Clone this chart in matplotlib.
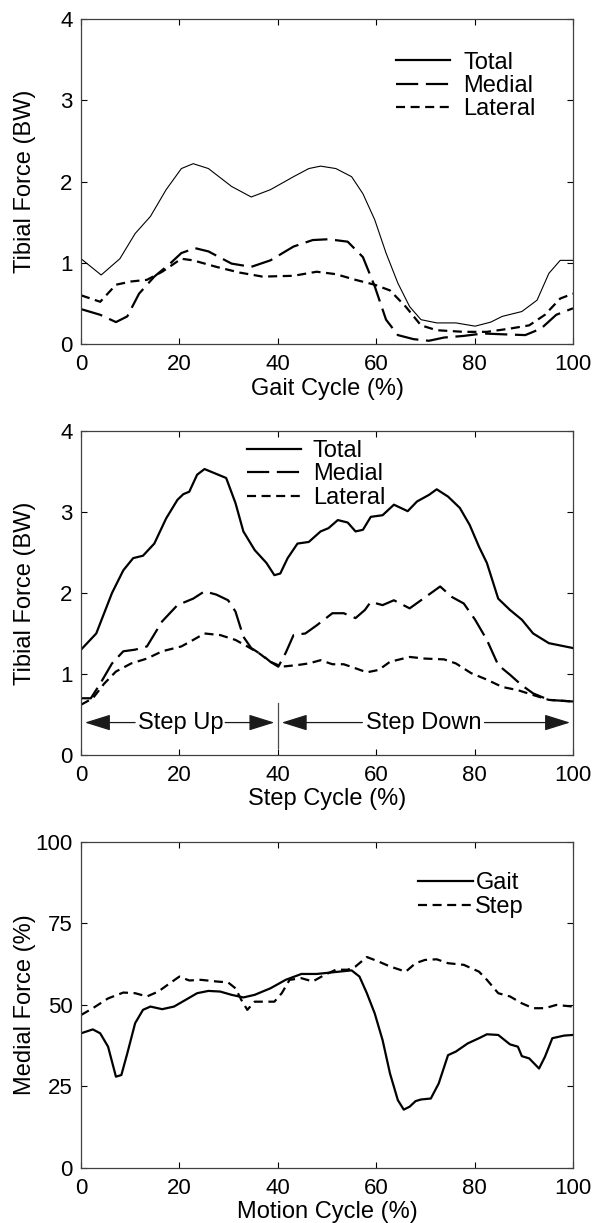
import matplotlib
matplotlib.use("Agg")
import matplotlib.pyplot as plt

plt.rcParams['font.family'] = ['Liberation Sans', 'DejaVu Sans']
plt.rcParams['font.size'] = 17
plt.rcParams['lines.scale_dashes'] = False

# panel 1: gait
gait_total_x = [0, 4.1, 7.9, 11, 14.1, 17.3, 20.4, 22.8, 25.9, 30.6, 34.6, 38.5, 43.2, 46.3, 48.7,
                51.8, 55, 57.3, 59.7, 62, 64.4, 66.8, 69.1, 72.3, 76.2, 80.1, 83.3, 85.6, 89.6,
                92.7, 95.1, 97.4, 100]
gait_total_y = [1.05, 0.85, 1.05, 1.36, 1.57, 1.90, 2.16, 2.22, 2.16, 1.94, 1.81, 1.90, 2.06, 2.16, 2.19,
                2.16, 2.06, 1.85, 1.53, 1.12, 0.75, 0.46, 0.30, 0.26, 0.26, 0.22, 0.27, 0.34, 0.40,
                0.54, 0.87, 1.03, 1.03]
gait_medial_x = [0, 3.9, 7.1, 9.4, 11.8, 14.9, 18.1, 20.4, 23.2, 25.9, 30.6, 34.6, 38.5, 43.2, 47.1,
                 50.3, 54.2, 57.3, 59.7, 62, 64.4, 67.6, 70.7, 73.8, 77.8, 81.7, 85.6, 90.3, 93.5,
                 96.6, 100]
gait_medial_y = [0.43, 0.36, 0.27, 0.34, 0.62, 0.83, 0.99, 1.12, 1.18, 1.14, 0.99, 0.95, 1.03, 1.20, 1.28,
                 1.29, 1.26, 1.07, 0.71, 0.30, 0.11, 0.06, 0.04, 0.08, 0.10, 0.13, 0.12, 0.11, 0.19,
                 0.36, 0.44]
gait_lateral_x = [0, 3.9, 7.1, 10.2, 13.4, 16.5, 20.4, 22.8, 27.5, 32.2, 36.9, 43.2, 47.9, 51.8, 55.8,
                  59.7, 62.8, 66, 69.1, 72.3, 77.8, 82.5, 87.2, 91.1, 94.3, 97.4, 100]
gait_lateral_y = [0.60, 0.52, 0.73, 0.77, 0.79, 0.89, 1.05, 1.03, 0.95, 0.88, 0.83, 0.84, 0.89, 0.86, 0.79,
                  0.73, 0.66, 0.46, 0.23, 0.17, 0.15, 0.15, 0.19, 0.23, 0.36, 0.56, 0.62]

# panel 2: step
step_total_x = [0, 3.1, 6.3, 8.6, 10.6, 12.6, 14.9, 17.3, 19.6, 20.8, 22, 23.6, 25.1, 27.5, 29.5,
                31.4, 33, 35.3, 37.7, 39.3, 40.5, 42, 44, 46.3, 48.7, 50.3, 52.2, 54.2, 55.8, 57.3,
                58.9, 61.3, 63.6, 66.4, 68.3, 70.7, 72.3, 74.6, 77, 79, 80.9, 82.5, 84.8, 87.2,
                89.6, 91.9, 95.1, 100]
step_total_y = [1.30, 1.50, 2.00, 2.28, 2.43, 2.46, 2.61, 2.92, 3.15, 3.22, 3.25, 3.46, 3.53, 3.47, 3.42,
                3.11, 2.76, 2.53, 2.37, 2.22, 2.24, 2.43, 2.61, 2.63, 2.76, 2.80, 2.90, 2.87, 2.76, 2.78,
                2.94, 2.96, 3.09, 3.01, 3.13, 3.21, 3.28, 3.19, 3.05, 2.84, 2.57, 2.37, 1.93, 1.79,
                1.67, 1.50, 1.38, 1.32]
step_medial_x = [0, 2, 3.9, 6.3, 8.6, 11, 13.4, 16.5, 19.6, 22.8, 25.1, 27.5, 29.9, 31.4, 33, 34.6,
                 36.9, 38.5, 40.1, 41.6, 43.2, 45.6, 47.9, 51.1, 53.4, 55.8, 57.7, 58.9, 61.3, 63.6,
                 66.8, 69.1, 73, 75.4, 77.8, 80.1, 82.5, 84.8, 87.2, 89.6, 91.9, 95.1, 100]
step_medial_y = [0.70, 0.70, 0.88, 1.13, 1.28, 1.30, 1.34, 1.65, 1.85, 1.93, 2.02, 1.98, 1.91, 1.77, 1.46, 1.32,
                 1.23, 1.15, 1.09, 1.26, 1.48, 1.50, 1.60, 1.75, 1.75, 1.69, 1.79, 1.89, 1.85, 1.91,
                 1.81, 1.91, 2.08, 1.95, 1.87, 1.67, 1.42, 1.11, 0.99, 0.86, 0.76, 0.68, 0.66]
step_lateral_x = [0, 2.4, 4.7, 7.1, 10.2, 13.4, 16.5, 20.4, 22.8, 25.1, 28.3, 31.4, 33.8, 36.1, 38.5,
                  40.8, 44, 46.3, 48.7, 51.1, 53.4, 55.8, 58.1, 60.5, 62.8, 66.8, 69.9, 73.8, 76.2,
                  79.3, 82.5, 85.6, 88.8, 91.9, 95.1, 100]
step_lateral_y = [0.62, 0.70, 0.88, 1.03, 1.13, 1.19, 1.28, 1.34, 1.42, 1.50, 1.48, 1.42, 1.34, 1.26, 1.15,
                  1.09, 1.11, 1.13, 1.17, 1.12, 1.12, 1.07, 1.02, 1.05, 1.15, 1.21, 1.19, 1.18, 1.13,
                  1.01, 0.93, 0.84, 0.80, 0.74, 0.68, 0.66]

# panel 3: medial share
med_gait_x = [0, 2.4, 3.9, 5.5, 7.1, 8.2, 9.4, 11, 12.6, 14.1, 16.5, 18.9, 21.2, 23.6, 25.9, 28.3,
              30.6, 33, 35.3, 38.5, 41.6, 44.8, 47.9, 51.1, 55, 56.6, 58.1, 59.7, 61.3, 62.8, 64.4,
              65.6, 66.8, 68, 69.1, 71.1, 72.7, 74.6, 76.2, 78.6, 80.9, 82.5, 84.8, 87.2, 88.8,
              89.6, 91.1, 93.1, 94.3, 95.8, 98.2, 100]
med_gait_y = [41.3, 42.5, 41.3, 37.2, 28.0, 28.5, 35.1, 44.4, 48.5, 49.5, 48.7, 49.5, 51.5, 53.6, 54.3, 54.1,
              53.1, 52.3, 53.1, 55.1, 57.7, 59.5, 59.5, 60.0, 60.6, 58.7, 53.6, 47.4, 39.2, 29.0, 20.8,
              17.9, 18.8, 20.5, 21.0, 21.3, 25.9, 34.6, 35.7, 38.2, 39.8, 41.0, 40.8, 37.9, 37.2,
              34.3, 33.6, 30.5, 34.1, 39.8, 40.6, 40.8]
med_step_x = [0, 2.4, 5.5, 8.6, 11, 13.4, 15.7, 18.1, 20, 22, 24.4, 27.5, 29.9, 31.4, 32.6, 33.8,
              35.3, 37.7, 39.3, 40.8, 42.4, 44.8, 47.1, 49.5, 51.8, 54.2, 55.8, 58.1, 60.5, 62.8,
              66, 68, 69.9, 72.3, 74.6, 77.8, 80.9, 82.5, 84.8, 87.2, 89.6, 91.9, 94.3, 96.6, 100]
med_step_y = [46.9, 49.0, 52.0, 53.8, 53.6, 52.6, 54.1, 56.7, 58.7, 57.5, 57.7, 57.2, 56.9, 55.1, 51.5, 48.5,
              51.0, 51.0, 51.0, 53.6, 57.7, 58.2, 57.2, 59.2, 60.8, 60.8, 61.8, 64.7, 63.3, 61.8,
              60.2, 62.8, 63.8, 64.0, 62.8, 62.3, 60.2, 57.7, 53.6, 52.6, 50.5, 49.0, 49.0, 50.0, 49.5]

LONG = (0, (16, 5.5))
SHORT = (0, (6.5, 4))


def style_axes(ax, yticks):
    ax.set_xlim(0, 100)
    ax.set_ylim(yticks[0], yticks[-1])
    ax.set_xticks([0, 20, 40, 60, 80, 100])
    ax.set_yticks(yticks)
    ax.tick_params(direction='in', top=True, right=True, length=4, width=0.8, labelsize=16)
    ax.tick_params(axis='x', pad=7)
    ax.tick_params(axis='y', pad=6)
    for s in ax.spines.values():
        s.set_linewidth(0.9)
        s.set_color('0.25')
    ax.yaxis.set_label_coords(-0.091, 0.5)


fig = plt.figure(figsize=(6.05, 12.23), dpi=100)
L, W = 0.1339, 0.8132

ax1 = fig.add_axes([L, 0.7187, W, 0.2657])
ax1.plot(gait_total_x, gait_total_y, color='k', lw=0.8, label='Total')
ax1.plot(gait_medial_x, gait_medial_y, color='k', lw=1.6, linestyle=LONG, label='Medial')
ax1.plot(gait_lateral_x, gait_lateral_y, color='k', lw=1.6, linestyle=SHORT, label='Lateral')
style_axes(ax1, [0, 1, 2, 3, 4])
ax1.set_xlabel('Gait Cycle (%)', labelpad=2)
ax1.set_ylabel('Tibial Force (BW)')
leg1 = ax1.legend(loc='upper left', bbox_to_anchor=(0.64, 0.9), frameon=False, borderpad=0,
                  borderaxespad=0, handlelength=2.3, handletextpad=0.55, labelspacing=0.06)
leg1.get_lines()[0].set_linewidth(1.6)

ax2 = fig.add_axes([L, 0.3827, W, 0.2649])
ax2.plot(step_total_x, step_total_y, color='k', lw=1.6, label='Total')
ax2.plot(step_medial_x, step_medial_y, color='k', lw=1.6, linestyle=LONG, label='Medial')
ax2.plot(step_lateral_x, step_lateral_y, color='k', lw=1.6, linestyle=SHORT, label='Lateral')
style_axes(ax2, [0, 1, 2, 3, 4])
ax2.set_xlabel('Step Cycle (%)', labelpad=2)
ax2.set_ylabel('Tibial Force (BW)')
ax2.legend(loc='upper left', bbox_to_anchor=(0.337, 0.972), frameon=False, borderpad=0,
           borderaxespad=0, handlelength=2.3, handletextpad=0.5, labelspacing=0.06)

# phase arrows
arrow_kw = dict(arrowstyle='-|>,head_length=1.6,head_width=0.5', color='0.1', lw=0.9,
                shrinkA=0, shrinkB=0, mutation_scale=10)
for x0, x1 in [(11, 0.8), (29.3, 39.3), (57.2, 40.8), (82.0, 99.4)]:
    ax2.annotate('', xy=(x1, 0.4), xytext=(x0, 0.4), arrowprops=arrow_kw)
ax2.text(20.2, 0.4, 'Step Up', ha='center', va='center')
ax2.text(69.7, 0.4, 'Step Down', ha='center', va='center')
ax2.plot([40, 40], [0.08, 0.64], color='0.3', lw=0.9)

ax3 = fig.add_axes([L, 0.045, W, 0.2666])
ax3.plot(med_gait_x, med_gait_y, color='k', lw=1.6, label='Gait')
ax3.plot(med_step_x, med_step_y, color='k', lw=1.6, linestyle=SHORT, label='Step')
style_axes(ax3, [0, 25, 50, 75, 100])
ax3.set_xlabel('Motion Cycle (%)', labelpad=2)
ax3.set_ylabel('Medial Force (%)')
ax3.legend(loc='upper left', bbox_to_anchor=(0.684, 0.907), frameon=False, borderpad=0,
           borderaxespad=0, handlelength=2.35, handletextpad=0.1, labelspacing=0.08)

fig.savefig('out.png', dpi=100)
